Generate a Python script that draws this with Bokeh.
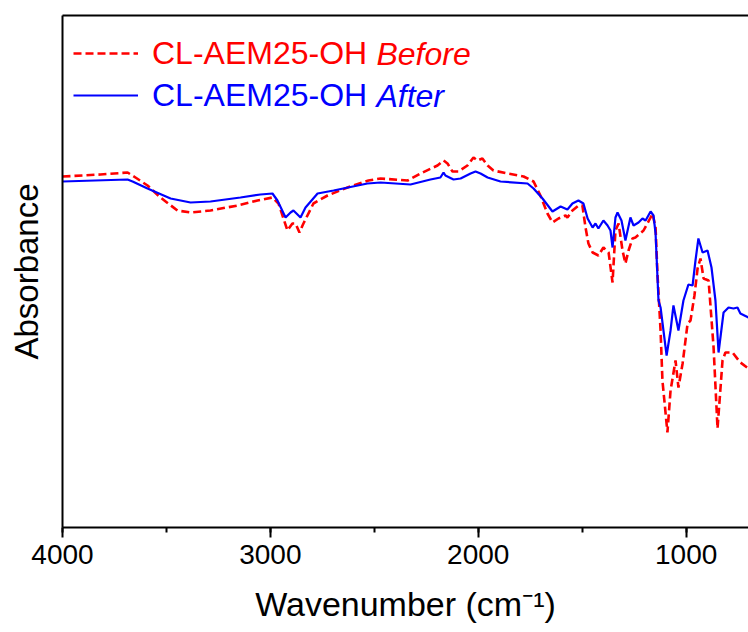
from bokeh.plotting import figure
from bokeh.models import (Range1d, LinearAxis, SingleIntervalTicker, FixedTicker,
                          Legend, LegendItem, Label, ColumnDataSource)
from bokeh.embed import file_html
from bokeh.resources import INLINE

# ---- data ----
wn_before = [4000, 3817, 3687, 3649, 3591, 3529, 3447, 3384, 3288, 3158, 3062, 2990,
             2961, 2937, 2918, 2894, 2879, 2860, 2841, 2793, 2725, 2629, 2528, 2470,
             2340, 2278, 2196, 2167, 2148, 2124, 2095, 2052, 2023, 2004, 1980, 1955,
             1927, 1859, 1782, 1734, 1701, 1667, 1643, 1614, 1580, 1571, 1547, 1518,
             1499, 1484, 1470, 1450, 1422, 1398, 1373, 1354, 1340, 1325, 1306, 1292,
             1277, 1258, 1244, 1205, 1171, 1162, 1147, 1138, 1123, 1114, 1090, 1075,
             1051, 1037, 1017, 993, 979, 960, 945, 931, 916, 892, 883, 868, 849, 825,
             811, 777, 739, 700]
abs_before = [0.702, 0.706, 0.710, 0.700, 0.684, 0.660, 0.634, 0.630, 0.634, 0.644, 0.654, 0.660,
              0.648, 0.618, 0.594, 0.608, 0.608, 0.590, 0.608, 0.648, 0.664, 0.680, 0.694, 0.698,
              0.694, 0.708, 0.724, 0.734, 0.728, 0.712, 0.712, 0.724, 0.740, 0.734, 0.738, 0.724,
              0.714, 0.708, 0.702, 0.692, 0.664, 0.628, 0.610, 0.618, 0.624, 0.620, 0.634, 0.644,
              0.644, 0.600, 0.568, 0.550, 0.544, 0.560, 0.550, 0.490, 0.594, 0.608, 0.554, 0.528,
              0.554, 0.578, 0.580, 0.594, 0.620, 0.628, 0.600, 0.508, 0.394, 0.294, 0.190, 0.274,
              0.334, 0.280, 0.328, 0.408, 0.414, 0.464, 0.518, 0.538, 0.498, 0.494, 0.444, 0.360,
              0.198, 0.334, 0.350, 0.350, 0.330, 0.318]

wn_after = [4000, 3687, 3663, 3591, 3480, 3384, 3288, 3144, 3048, 2990, 2966, 2927,
            2903, 2889, 2855, 2831, 2773, 2696, 2533, 2470, 2326, 2230, 2182, 2167,
            2158, 2119, 2085, 2037, 2013, 1989, 1955, 1893, 1763, 1734, 1691, 1643,
            1604, 1571, 1547, 1518, 1494, 1474, 1450, 1436, 1422, 1398, 1378, 1364,
            1354, 1340, 1330, 1311, 1292, 1268, 1253, 1229, 1210, 1195, 1171, 1157,
            1147, 1133, 1123, 1094, 1075, 1061, 1037, 1013, 989, 969, 955, 941, 921,
            897, 878, 859, 844, 820, 796, 772, 753, 739, 700]
abs_after = [0.692, 0.696, 0.692, 0.678, 0.658, 0.650, 0.652, 0.660, 0.666, 0.668, 0.654, 0.620,
             0.630, 0.634, 0.620, 0.640, 0.668, 0.674, 0.688, 0.690, 0.686, 0.696, 0.700, 0.710,
             0.704, 0.696, 0.698, 0.708, 0.712, 0.708, 0.700, 0.692, 0.688, 0.678, 0.658, 0.632,
             0.642, 0.636, 0.648, 0.654, 0.648, 0.618, 0.600, 0.608, 0.598, 0.614, 0.604, 0.594,
             0.560, 0.620, 0.630, 0.614, 0.574, 0.620, 0.604, 0.610, 0.618, 0.614, 0.632, 0.624,
             0.588, 0.454, 0.440, 0.344, 0.394, 0.444, 0.394, 0.454, 0.486, 0.484, 0.534, 0.578,
             0.550, 0.554, 0.520, 0.454, 0.350, 0.430, 0.440, 0.438, 0.440, 0.428, 0.420]

sample = "CL-AEM25-OH"
state_labels = ["Before", "After"]
colors = ["#ff0000", "#0000ff"]
x_ticks_interval = 1000

SANS = "Liberation Sans"

p = figure(width=748, height=632, x_range=Range1d(4000, 700), y_range=Range1d(0, 1.024),
           output_backend="svg", toolbar_location=None,
           min_border_left=62, min_border_right=0, min_border_top=15, min_border_bottom=105)
p.outline_line_color = None
p.xgrid.visible = False
p.ygrid.visible = False
p.background_fill_color = "white"
p.border_fill_color = "white"

src_b = ColumnDataSource(dict(x=wn_before, y=abs_before))
src_a = ColumnDataSource(dict(x=wn_after, y=abs_after))
r_before = p.line("x", "y", source=src_b, line_color=colors[0], line_width=2.6,
                  line_dash="8 4")
r_after = p.line("x", "y", source=src_a, line_color=colors[1], line_width=2.2)

# bottom axis
xa = p.xaxis[0]
xa.ticker = SingleIntervalTicker(interval=x_ticks_interval, num_minor_ticks=2)
xa.axis_label = "Wavenumber (cm\u207b\u00b9)"
xa.axis_line_width = 2
xa.major_tick_line_width = 2
xa.minor_tick_line_width = 2
xa.major_tick_in = 0
xa.major_tick_out = 10
xa.minor_tick_in = 0
xa.minor_tick_out = 5
xa.major_label_text_font = SANS
xa.major_label_text_font_size = "28px"
xa.major_label_text_color = "black"
xa.major_label_standoff = 7
xa.axis_label_text_font = SANS
xa.axis_label_text_font_size = "34px"
xa.axis_label_text_font_style = "normal"
xa.axis_label_text_color = "black"
xa.axis_label_standoff = 18

# left axis
ya = p.yaxis[0]
ya.ticker = FixedTicker(ticks=[])
ya.axis_label = "Absorbance"
ya.axis_line_width = 2
ya.major_tick_line_color = None
ya.minor_tick_line_color = None
ya.axis_label_text_font = SANS
ya.axis_label_text_font_size = "33px"
ya.axis_label_text_font_style = "normal"
ya.axis_label_text_color = "black"
ya.axis_label_standoff = 18

# top frame line
top = LinearAxis(ticker=FixedTicker(ticks=[]), axis_line_width=2,
                 major_tick_line_color=None, minor_tick_line_color=None,
                 major_label_text_font_size="0px")
p.add_layout(top, "above")

# legends
def make_legend(item, loc, color):
    lg = Legend(items=[item], location=loc, glyph_width=65, glyph_height=42,
                label_height=42, label_standoff=14, spacing=0, padding=0, margin=0,
                border_line_color=None, background_fill_alpha=0,
                label_text_font=SANS, label_text_font_size="32px",
                label_text_color=color)
    return lg

p.add_layout(make_legend(LegendItem(label=sample, renderers=[r_before]), (11, 453), colors[0]))
p.add_layout(make_legend(LegendItem(label=sample, renderers=[r_after]), (11, 411), colors[1]))

for lab, col, yy in zip(state_labels, colors, [0.948, 0.864]):
    p.add_layout(Label(x=2490, y=yy, text=lab, text_color=col, text_font=SANS,
                       text_font_size="32px", text_font_style="italic",
                       text_baseline="middle", text_align="left"))

open("out.html", "w").write(file_html(p, INLINE))
